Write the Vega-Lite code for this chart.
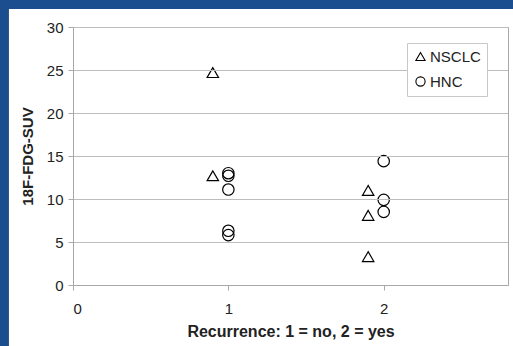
{
  "$schema": "https://vega.github.io/schema/vega-lite/v6.json",
  "width": 435,
  "height": 258,
  "autosize": {"type": "none"},
  "padding": {"left": 73, "top": 27, "right": 5, "bottom": 61},
  "background": "#1b4e8e",
  "config": {
    "view": {"stroke": null},
    "font": "Liberation Sans"
  },
  "data": {
    "values": [
      {"recurrence": 0.9, "suv": 24.7, "type": "NSCLC"},
      {"recurrence": 0.9, "suv": 12.7, "type": "NSCLC"},
      {"recurrence": 1.9, "suv": 11.0, "type": "NSCLC"},
      {"recurrence": 1.9, "suv": 8.1, "type": "NSCLC"},
      {"recurrence": 1.9, "suv": 3.3, "type": "NSCLC"},
      {"recurrence": 1, "suv": 13.0, "type": "HNC"},
      {"recurrence": 1, "suv": 12.7, "type": "HNC"},
      {"recurrence": 1, "suv": 11.1, "type": "HNC"},
      {"recurrence": 1, "suv": 6.3, "type": "HNC"},
      {"recurrence": 1, "suv": 5.8, "type": "HNC"},
      {"recurrence": 2, "suv": 14.4, "type": "HNC"},
      {"recurrence": 2, "suv": 9.9, "type": "HNC"},
      {"recurrence": 2, "suv": 8.5, "type": "HNC"}
    ]
  },
  "resolve": {"axis": {"y": "independent"}},
  "layer": [
    {
      "mark": {"type": "rect", "fill": "white", "clip": false, "zindex": 0},
      "encoding": {
        "x": {"datum": -0.412, "type": "quantitative", "scale": {"domain": [0, 2.8], "nice": false, "zero": false}},
        "x2": {"datum": 2.95},
        "y": {"datum": 32.09, "type": "quantitative", "scale": {"domain": [0, 30], "nice": false},
          "axis": {"orient": "right", "labels": false, "ticks": false, "grid": false, "title": null, "domainColor": "#a8a8a8", "zindex": 2}},
        "y2": {"datum": -10}
      }
    },
    {
      "mark": {"type": "point", "filled": false, "stroke": "black", "strokeWidth": 1.2, "size": 130, "opacity": 1, "zindex": 3},
      "encoding": {
        "x": {
          "field": "recurrence", "type": "quantitative",
          "scale": {"domain": [0, 2.8], "nice": false, "zero": false},
          "axis": {
            "values": [0, 1, 2], "format": "d", "grid": false, "zindex": 2,
            "title": "Recurrence: 1 = no, 2 = yes",
            "titleFont": "Liberation Sans", "titleFontSize": 16, "titleFontWeight": "bold", "titleColor": "#222",
            "titlePadding": 7,
            "labelFont": "Liberation Sans", "labelFontSize": 15, "labelColor": "#222", "labelPadding": 11,
            "domainColor": "#a8a8a8", "tickColor": "#a8a8a8", "tickSize": 5
          }
        },
        "y": {
          "field": "suv", "type": "quantitative",
          "scale": {"domain": [0, 30], "nice": false},
          "axis": {
            "orient": "left",
            "values": [0, 5, 10, 15, 20, 25, 30], "grid": true, "gridColor": "#bdbdbd", "zindex": 1,
            "title": "18F-FDG-SUV",
            "titleFont": "Liberation Sans", "titleFontSize": 15, "titleFontWeight": "bold", "titleColor": "#222",
            "titlePadding": 11,
            "labelFont": "Liberation Sans", "labelFontSize": 15, "labelColor": "#222", "labelPadding": 5,
            "domainColor": "#a8a8a8", "tickColor": "#a8a8a8", "tickSize": 5
          }
        },
        "shape": {
          "field": "type", "type": "nominal",
          "scale": {"domain": ["NSCLC", "HNC"], "range": ["triangle-up", "circle"]},
          "legend": {
            "title": null, "orient": "none", "legendX": 334, "legendY": 16, "zindex": 4,
            "fillColor": "white", "strokeColor": "#c8c8c8", "padding": 6,
            "labelFont": "Liberation Sans", "labelFontSize": 15, "labelColor": "#222",
            "symbolStrokeColor": "black", "symbolFillColor": "transparent", "symbolSize": 85, "symbolStrokeWidth": 1.1,
            "rowPadding": 9, "labelOffset": 2
          }
        }
      }
    }
  ]
}
